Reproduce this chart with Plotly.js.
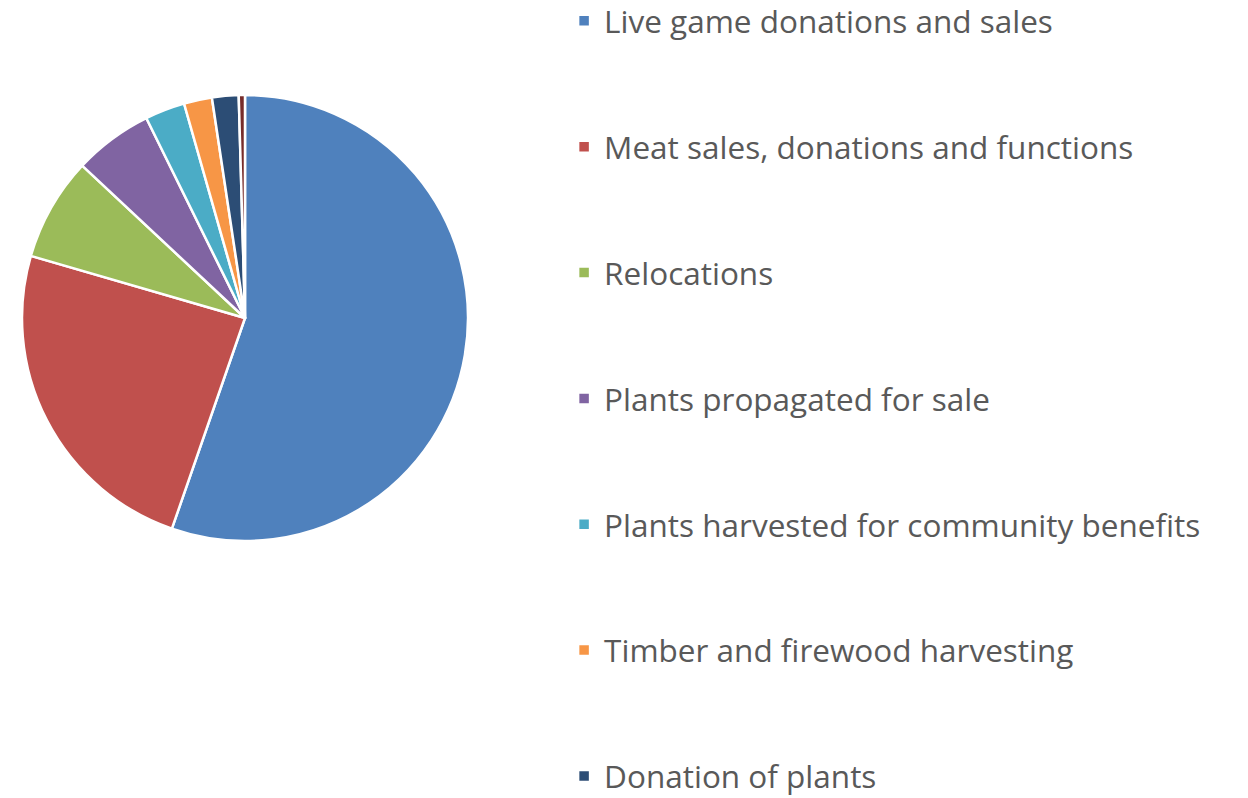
<!DOCTYPE html>
<html>
<head>
<meta charset="utf-8">
<script src="https://cdn.plot.ly/plotly-3.0.1.min.js"></script>
<style>html,body{margin:0;padding:0;background:#fff;}#chart{width:1248px;height:798px;}</style>
</head>
<body>
<div id="chart"></div>
<script>
const categories = [
  "Live game donations and sales",
  "Meat sales, donations and functions",
  "Relocations",
  "Plants propagated for sale",
  "Plants harvested for community benefits",
  "Timber and firewood harvesting",
  "Donation of plants",
  "Other"
];
const shares = [55.25, 24.15, 7.47, 5.72, 2.89, 2.03, 1.92, 0.45];
const colors = ["#4F81BD", "#C0504D", "#9BBB59", "#8064A2", "#4BACC6", "#F79646", "#2C4D75", "#772C2A"];

// pad legend entries with blank lines so entries are spaced like the reference
const legendLabels = categories.map(c => " <br>" + c + "<br> ");

const trace = {
  type: "pie",
  labels: legendLabels,
  values: shares,
  sort: false,
  direction: "clockwise",
  rotation: 0,
  textinfo: "none",
  hoverinfo: "label+percent",
  marker: {colors: colors, line: {color: "#ffffff", width: 2.5}},
  domain: {x: [22/1248, 468/1248], y: [(798-541)/798, (798-95)/798]}
};

const layout = {
  width: 1248,
  height: 798,
  margin: {l: 0, r: 0, t: 0, b: 0, autoexpand: false},
  paper_bgcolor: "#ffffff",
  showlegend: true,
  legend: {
    x: 0.452, xanchor: "left",
    y: 1.059, yanchor: "top",
    font: {family: "'Open Sans', sans-serif", size: 31.5, color: "#595959"},
    maxheight: 2000,
    bgcolor: "rgba(0,0,0,0)"
  }
};

Plotly.newPlot("chart", [trace], layout, {displayModeBar: false, staticPlot: true});
</script>
</body>
</html>
